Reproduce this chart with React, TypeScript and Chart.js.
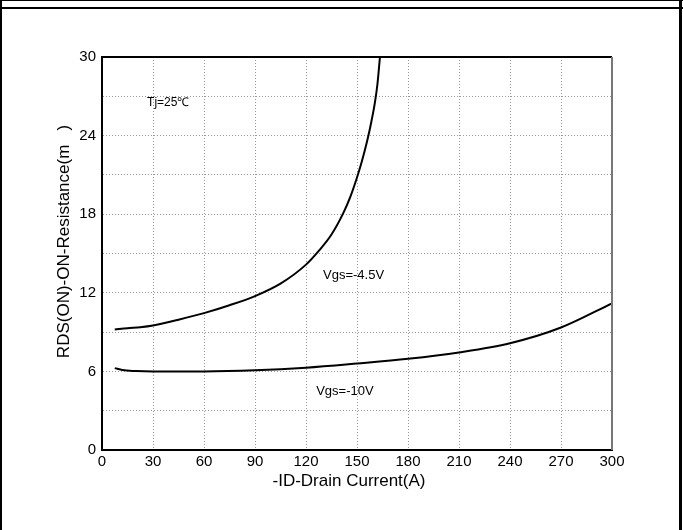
import React, { useEffect, useRef } from 'react';
import { Chart, registerables } from 'chart.js';

Chart.register(...registerables);

const FONT = '"Liberation Sans", Arial, Helvetica, sans-serif';

// -ID drain current (A) and RDS(ON) (mΩ) for Vgs = -4.5V
const currentVgs45 = [7.5, 15, 22.5, 30, 45, 60, 75, 90, 105, 120, 127.5, 135, 142, 146, 150, 153, 156, 158.5, 160.5, 162, 163.5];
const rdsVgs45 = [9.2, 9.3, 9.37, 9.5, 9.95, 10.45, 11.05, 11.75, 12.7, 14.15, 15.2, 16.45, 18.1, 19.3, 20.8, 22.1, 23.6, 25.1, 26.5, 27.9, 30];

// -ID drain current (A) and RDS(ON) (mΩ) for Vgs = -10V
const currentVgs10 = [7.5, 12, 20, 30, 60, 90, 120, 150, 180, 210, 240, 270, 300];
const rdsVgs10 = [6.25, 6.1, 6.03, 6.0, 6.0, 6.08, 6.28, 6.6, 6.96, 7.45, 8.15, 9.35, 11.2];

// annotation labels (data coordinates)
const noteTexts = ['Tj=25\u2103', 'Vgs=-4.5V', 'Vgs=-10V'];
const noteX = [26.5, 130, 126];
const noteY = [26.5, 13.3, 4.5];
const noteSizes = [12, 13, 13];

const xTitle = '-ID-Drain Current(A)';
const yTitle = 'RDS(ON)-ON-Resistance(m   )';

export default function App() {
  const ref = useRef<HTMLCanvasElement>(null);

  useEffect(() => {
    document.body.style.margin = '0';
    const canvas = ref.current;
    if (!canvas) return;

    const framePlugin = {
      id: 'framePlugin',
      beforeDraw(chart: any) {
        const ctx = chart.ctx;
        ctx.save();
        ctx.fillStyle = '#ffffff';
        ctx.fillRect(0, 0, 683, 530);
        ctx.fillStyle = '#000000';
        ctx.fillRect(0, 0, 683, 1);
        ctx.fillRect(0, 7, 683, 2);
        ctx.fillRect(0, 0, 2, 530);
        ctx.fillRect(679, 0, 3, 530);
        ctx.restore();
      },
      afterDraw(chart: any) {
        const { ctx, chartArea: a, scales } = chart;
        ctx.save();
        ctx.lineWidth = 2;
        ctx.strokeStyle = '#000000';
        ctx.beginPath();
        ctx.moveTo(a.left, a.top);
        ctx.lineTo(a.right, a.top);
        ctx.stroke();
        ctx.strokeStyle = '#777777';
        ctx.beginPath();
        ctx.moveTo(a.right, a.top);
        ctx.lineTo(a.right, a.bottom);
        ctx.stroke();

        ctx.fillStyle = '#000000';
        ctx.textBaseline = 'middle';
        ctx.textAlign = 'left';
        for (let i = 0; i < noteTexts.length; i++) {
          ctx.font = `${noteSizes[i]}px ${FONT}`;
          ctx.fillText(noteTexts[i], scales.x.getPixelForValue(noteX[i]), scales.y.getPixelForValue(noteY[i]));
        }

        ctx.font = `17px ${FONT}`;
        ctx.textAlign = 'center';
        ctx.fillText(xTitle, (a.left + a.right) / 2 - 8, a.bottom + 31);
        ctx.translate(64, (a.top + a.bottom) / 2 - 12);
        ctx.rotate(-Math.PI / 2);
        ctx.fillText(yTitle, 0, 0);
        ctx.restore();
      },
    };

    const chart = new Chart(canvas, {
      type: 'line',
      data: {
        datasets: [
          {
            label: 'Vgs=-4.5V',
            data: currentVgs45.map((x, i) => ({ x, y: rdsVgs45[i] })),
            borderColor: '#000000',
            borderWidth: 2,
            pointRadius: 0,
            cubicInterpolationMode: 'monotone',
            fill: false,
          },
          {
            label: 'Vgs=-10V',
            data: currentVgs10.map((x, i) => ({ x, y: rdsVgs10[i] })),
            borderColor: '#000000',
            borderWidth: 2,
            pointRadius: 0,
            cubicInterpolationMode: 'monotone',
            fill: false,
          },
        ],
      },
      options: {
        responsive: false,
        animation: false,
        events: [],
        layout: { padding: { left: 0, top: 57, right: 71, bottom: 0 } },
        plugins: {
          legend: { display: false },
          tooltip: { enabled: false },
          title: { display: false },
        },
        scales: {
          x: {
            type: 'linear',
            min: 0,
            max: 300,
            afterFit: (s: any) => { s.height = 80; },
            ticks: {
              stepSize: 30,
              padding: 3,
              color: '#000000',
              font: { family: FONT, size: 15 },
              maxRotation: 0,
            },
            grid: { color: '#999999', lineWidth: 1, drawTicks: false },
            border: { color: '#000000', width: 2, dash: [1, 2] },
          },
          y: {
            type: 'linear',
            min: 0,
            max: 30,
            afterFit: (s: any) => { s.width = 102; },
            ticks: {
              stepSize: 3,
              padding: 6,
              color: '#000000',
              font: { family: FONT, size: 15 },
              callback: (v: any) => (Number(v) % 6 === 0 ? String(v) : ''),
            },
            grid: { color: '#999999', lineWidth: 1, drawTicks: false },
            border: { color: '#000000', width: 2, dash: [1, 2] },
          },
        },
      },
      plugins: [framePlugin],
    } as any);

    return () => chart.destroy();
  }, []);

  return <canvas ref={ref} width={683} height={530} style={{ display: 'block' }} />;
}
